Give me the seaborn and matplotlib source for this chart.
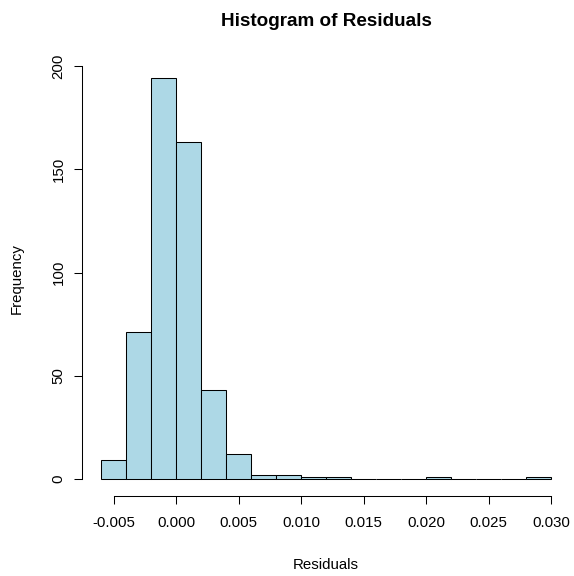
import numpy as np
import pandas as pd
import matplotlib
matplotlib.use("Agg")
import matplotlib.pyplot as plt
import seaborn as sns

# Residual histogram: bin edges and counts per bin
bin_edges = [-0.006, -0.004, -0.002, 0.000, 0.002, 0.004, 0.006, 0.008, 0.010,
             0.012, 0.014, 0.016, 0.018, 0.020, 0.022, 0.024, 0.026, 0.028, 0.030]
bin_counts = [9, 71, 194, 163, 43, 12, 2, 2, 1, 1, 0, 0, 0, 1, 0, 0, 0, 1]
x_ticks = [-0.005, 0.000, 0.005, 0.010, 0.015, 0.020, 0.025, 0.030]
x_tick_labels = ["-0.005", "0.000", "0.005", "0.010", "0.015", "0.020", "0.025", "0.030"]
y_ticks = [0, 50, 100, 150, 200]

centers = [(a + b) / 2 for a, b in zip(bin_edges[:-1], bin_edges[1:])]
df = pd.DataFrame({"residual": centers, "count": bin_counts})

sns.set_style("white")
plt.rcParams["font.family"] = ["Liberation Sans", "DejaVu Sans"]
plt.rcParams["text.color"] = "black"
plt.rcParams["axes.labelcolor"] = "black"

W, H = 574, 576
left_px, right_px, top_px, bottom_px = 83.5, 569, 62.4, 495
fig = plt.figure(figsize=(W / 100, H / 100), dpi=100)
ax = fig.add_axes([left_px / W, (H - bottom_px) / H,
                   (right_px - left_px) / W, (bottom_px - top_px) / H])

sns.histplot(data=df, x="residual", weights="count", bins=bin_edges,
             color="#ADD8E6", edgecolor="black", linewidth=0.75, alpha=1.0, ax=ax)

span = bin_edges[-1] - bin_edges[0]
ax.set_xlim(bin_edges[0] - 0.04 * span, bin_edges[-1] + 0.04 * span)
ymax = max(bin_counts)
ax.set_ylim(-0.04 * ymax, ymax * 1.04)

for s in ["top", "right"]:
    ax.spines[s].set_visible(False)
for s in ["left", "bottom"]:
    ax.spines[s].set_color("black")
    ax.spines[s].set_linewidth(0.75)
ax.spines["left"].set_bounds(y_ticks[0], y_ticks[-1])
ax.spines["bottom"].set_bounds(x_ticks[0], x_ticks[-1])
ax.spines["left"].set_position(("outward", 1))
ax.spines["bottom"].set_position(("outward", 1))

ax.set_xticks(x_ticks)
ax.set_xticklabels(x_tick_labels)
ax.set_yticks(y_ticks)
ax.set_yticklabels([str(v) for v in y_ticks], rotation=90, va="center")
ax.tick_params(axis="both", which="both", direction="out", length=5.8, width=0.75,
               colors="black", labelsize=10.8, left=True, bottom=True)
ax.tick_params(axis="x", pad=8)
ax.tick_params(axis="y", pad=6)
ax.grid(False)

ax.set_xlabel("Residuals", fontsize=10.8, color="black")
ax.set_ylabel("Frequency", fontsize=10.8, color="black")
ax.xaxis.set_label_coords(0.5, (bottom_px - 565) / (bottom_px - top_px))
ax.xaxis.label.set_va("center")
ax.yaxis.set_label_coords((17 - left_px) / (right_px - left_px), 0.5)
ax.yaxis.label.set_va("center")

fig.text(0.5 * (left_px + right_px) / W, 1 - 22 / H, "Histogram of Residuals",
         ha="center", va="center", fontsize=13.6, fontweight="bold", color="black")

fig.savefig("out.png", dpi=100, facecolor="white")
